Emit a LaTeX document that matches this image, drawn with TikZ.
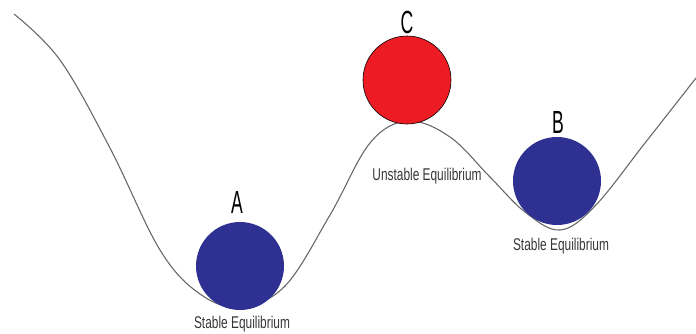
\documentclass[tikz,border=0pt]{standalone}
\usepackage{fontspec}
\setmainfont{Liberation Sans}[FakeStretch=0.7]
\newfontfamily\letterfont{Liberation Sans}[FakeStretch=0.55]
\usetikzlibrary{positioning}
\definecolor{ballblue}{RGB}{46,49,146}
\definecolor{ballred}{RGB}{237,28,36}
\definecolor{curvegray}{RGB}{105,105,105}
\definecolor{textgray}{RGB}{55,55,55}
\begin{document}
\begin{tikzpicture}[x=1pt,y=-1pt,
ball/.style={circle,inner sep=0pt,minimum size=88pt},
letter/.style={anchor=base,inner sep=0pt,font=\letterfont\fontsize{32}{32}\selectfont},
caption/.style={anchor=base,inner sep=0pt,text=textgray,font=\fontsize{17}{17}\selectfont},]
\useasboundingbox (0,0) rectangle (696,333);
% the landscape
\draw[curvegray,line width=1.1pt] plot[smooth,tension=0.6] coordinates {
  (14,14) (60,60) (110,148) (160,250) (200,294) (240,307) (285,286)
  (330,215) (370,143) (408,121) (450,137) (490,177) (525,212) (560,230)
  (595,206) (645,143) (696,78)};
% the balls
\node[ball,fill=ballblue] (ballA) at (240,266) {};
\node[ball,fill=ballred,draw=black,line width=0.6pt] (ballC) at (407,80) {};
\node[ball,fill=ballblue] (ballB) at (557,181) {};
% the letters
\node[letter] (letA) at (237,213) {A};
\node[letter] (letC) at (407,33) {C};
\node[letter] (letB) at (558,133) {B};
% the captions
\node[caption] (capA) at (242,328) {Stable Equilibrium};
\node[caption] (capC) at (427,180) {Unstable Equilibrium};
\node[caption] (capB) at (561,250) {Stable Equilibrium};
\end{tikzpicture}
\end{document}
